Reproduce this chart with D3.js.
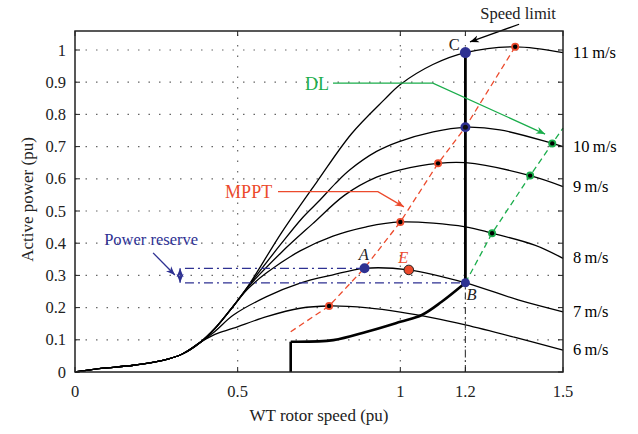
<!DOCTYPE html>
<html>
<head>
<meta charset="utf-8">
<script src="https://cdn.jsdelivr.net/npm/d3@7"></script>
<style>
  body { margin: 0; background: #fff; }
  text { font-family: "Liberation Serif", "Times New Roman", serif; }
</style>
</head>
<body>
<div class="container"></div>
<script>
// wind speed curves (rotor speed pu, active power pu)
const speeds = ["6\u2009m/s", "7\u2009m/s", "8\u2009m/s", "9\u2009m/s", "10\u2009m/s", "11\u2009m/s"];
const lowX = [0, 0.08, 0.18, 0.27, 0.33, 0.385];
const lowY = [0, 0.011, 0.021, 0.036, 0.056, 0.092];

const curveX = [
  [0.43, 0.487, 0.589, 0.692, 0.781, 0.9, 1.0, 1.1, 1.2, 1.35, 1.5],
  [0.43, 0.487, 0.589, 0.692, 0.79, 0.89, 1.026, 1.2, 1.362, 1.5],
  [0.43, 0.487, 0.533, 0.589, 0.692, 0.793, 0.896, 1.0, 1.2, 1.282, 1.413, 1.5],
  [0.43, 0.487, 0.533, 0.635, 0.73, 0.83, 0.927, 1.0, 1.115, 1.2, 1.399, 1.5],
  [0.43, 0.487, 0.533, 0.635, 0.7, 0.753, 0.8, 0.845, 0.927, 0.994, 1.101, 1.2, 1.306, 1.467, 1.5],
  [0.43, 0.487, 0.533, 0.635, 0.743, 0.85, 0.95, 1.0, 1.1, 1.2, 1.353, 1.5]
];
const curveY = [
  [0.117, 0.136, 0.172, 0.198, 0.205, 0.199, 0.186, 0.168, 0.146, 0.108, 0.068],
  [0.126, 0.177, 0.234, 0.276, 0.301, 0.322, 0.317, 0.277, 0.224, 0.187],
  [0.135, 0.205, 0.26, 0.308, 0.376, 0.422, 0.451, 0.466, 0.451, 0.431, 0.394, 0.353],
  [0.135, 0.205, 0.265, 0.372, 0.46, 0.55, 0.605, 0.628, 0.648, 0.65, 0.61, 0.576],
  [0.135, 0.205, 0.267, 0.40, 0.48, 0.534, 0.585, 0.628, 0.685, 0.715, 0.746, 0.76, 0.752, 0.71, 0.70],
  [0.135, 0.205, 0.268, 0.433, 0.59, 0.74, 0.845, 0.893, 0.955, 0.992, 1.01, 0.992]
];

// MPPT trajectory and its marked optimum points
const mpptX = [0.663, 0.781, 0.89, 1.0, 1.116, 1.2, 1.353];
const mpptY = [0.125, 0.205, 0.323, 0.466, 0.648, 0.76, 1.01];
const mpptDotX = [0.781, 1.0, 1.116, 1.353];
const mpptDotY = [0.205, 0.466, 0.648, 1.01];

// deloading (DL) line and its points
const dlX = [1.2, 1.282, 1.399, 1.467, 1.5];
const dlY = [0.277, 0.431, 0.61, 0.71, 0.757];
const dlDotX = [1.282, 1.399, 1.467];
const dlDotY = [0.431, 0.61, 0.71];

// operating trajectory (thick)
const opX = [0.663, 0.663, 0.794, 0.897, 1.0, 1.066, 1.127, 1.2, 1.2];
const opY = [0, 0.094, 0.099, 0.125, 0.156, 0.177, 0.218, 0.277, 0.992];

const speedLimit = 1.2;
const pointA = [0.89, 0.322], pointB = [1.2, 0.277], pointC = [1.2, 0.992];
const pointE = [1.026, 0.317], point10 = [1.2, 0.76];

const xTicks = [0, 0.5, 1, 1.2, 1.5];
const yTicks = [0, 0.1, 0.2, 0.3, 0.4, 0.5, 0.6, 0.7, 0.8, 0.9, 1];

const red = "#ec4a2c", green = "#1aad4b", blue = "#2e3192";

const width = 638, height = 434;
const margin = {left: 75, right: 75, top: 31, bottom: 62};

const svg = d3.select(".container").append("svg")
  .attr("width", width).attr("height", height)
  .style("background", "#fff");

const x = d3.scaleLinear().domain([0, 1.5]).range([margin.left, width - margin.right]);
const y = d3.scaleLinear().domain([0, 1]).range([height - margin.bottom, height - margin.bottom - 322]);
const yTop = y.invert(margin.top);

// dotted grid
const grid = svg.append("g").attr("stroke", "#666").attr("stroke-width", 1.2)
  .attr("stroke-dasharray", "1.5,9");
grid.selectAll("line.h").data(yTicks.slice(1)).enter().append("line")
  .attr("x1", x(0)).attr("x2", x(1.5)).attr("y1", d => y(d)).attr("y2", d => y(d));
grid.selectAll("line.v").data(xTicks.slice(1, 4)).enter().append("line")
  .attr("y1", y(0)).attr("y2", y(yTop)).attr("x1", d => x(d)).attr("x2", d => x(d));

const line = d3.line().x(d => x(d[0])).y(d => y(d[1]));
const smooth = d3.line().x(d => x(d[0])).y(d => y(d[1])).curve(d3.curveCatmullRom.alpha(0.5));

// wind speed curves
curveX.forEach((cx, i) => {
  const pts = lowX.map((v, j) => [v, lowY[j]]).concat(cx.map((v, j) => [v, curveY[i][j]]));
  svg.append("path").attr("d", smooth(pts))
    .attr("fill", "none").attr("stroke", "#000").attr("stroke-width", 1.3);
  svg.append("text")
    .attr("x", x(1.5) + 10).attr("y", y(curveY[i][cx.length - 1]) + 5)
    .attr("font-size", 16.5).text(speeds[i]);
});

// dash-dot line under B
svg.append("path").attr("d", line([[speedLimit, 0], pointB]))
  .attr("stroke", "#444").attr("stroke-width", 1.2).attr("stroke-dasharray", "7,3,1.5,3");

// power reserve lines
const resX = 0.338;
svg.append("path").attr("d", line([[resX, pointA[1]], pointA]))
  .attr("stroke", blue).attr("stroke-width", 1.3).attr("stroke-dasharray", "9,4,2,4");
svg.append("path").attr("d", line([[resX, pointB[1]], pointB]))
  .attr("stroke", blue).attr("stroke-width", 1.3).attr("stroke-dasharray", "9,4,2,4");

// MPPT and DL dashed lines
svg.append("path").attr("d", line(mpptX.map((v, i) => [v, mpptY[i]])))
  .attr("fill", "none").attr("stroke", red).attr("stroke-width", 1.3).attr("stroke-dasharray", "6,4");
svg.append("path").attr("d", line(dlX.map((v, i) => [v, dlY[i]])))
  .attr("fill", "none").attr("stroke", green).attr("stroke-width", 1.3).attr("stroke-dasharray", "6,4");

// operating trajectory
svg.append("path").attr("d", smooth(opX.slice(1, 8).map((v, i) => [v, opY[i + 1]])))
  .attr("fill", "none").attr("stroke", "#000").attr("stroke-width", 2.6);
svg.append("path").attr("d", line([[opX[0], opY[0]], [opX[1], opY[1]]]))
  .attr("stroke", "#000").attr("stroke-width", 2.6);
svg.append("path").attr("d", line([[opX[7], opY[7]], [opX[8], opY[8]]]))
  .attr("stroke", "#000").attr("stroke-width", 2.8);

// arrow markers
const defs = svg.append("defs");
[["arrRed", red], ["arrGreen", green], ["arrBlue", blue], ["arrBlack", "#000"]].forEach(([id, c]) => {
  defs.append("marker").attr("id", id).attr("viewBox", "0 0 10 10")
    .attr("refX", 10).attr("refY", 5).attr("markerWidth", 9).attr("markerHeight", 9)
    .attr("markerUnits", "userSpaceOnUse").attr("orient", "auto-start-reverse")
    .append("path").attr("d", "M0,1 L10,5 L0,9 L3,5 Z").attr("fill", c);
});

function arrow(pts, color, id, both) {
  const p = svg.append("path").attr("d", line(pts)).attr("fill", "none")
    .attr("stroke", color).attr("stroke-width", 1.3)
    .attr("marker-end", `url(#${id})`);
  if (both) p.attr("marker-start", `url(#${id})`);
}

arrow([[0.793, 0.897], [1.1, 0.897], [1.445, 0.739]], green, "arrGreen");
arrow([[0.624, 0.56], [0.931, 0.56], [1.011, 0.513]], red, "arrRed");
arrow([[0.24, 0.37], [0.307, 0.301]], blue, "arrBlue");
arrow([[0.323, 0.322], [0.323, 0.277]], blue, "arrBlue", true);
arrow([[1.365, 1.08], [1.214, 1.025]], "#000", "arrBlack");

// dots
function ringDots(xs, ys, color) {
  xs.forEach((v, i) => {
    svg.append("circle").attr("cx", x(v)).attr("cy", y(ys[i])).attr("r", 4).attr("fill", color);
    svg.append("circle").attr("cx", x(v)).attr("cy", y(ys[i])).attr("r", 2.2).attr("fill", "#000");
  });
}
ringDots(mpptDotX, mpptDotY, red);
ringDots(dlDotX, dlDotY, green);

[[pointA, 5], [pointB, 4.5], [pointC, 5.5], [point10, 5]].forEach(([p, r]) => {
  svg.append("circle").attr("cx", x(p[0])).attr("cy", y(p[1])).attr("r", r).attr("fill", blue);
});
svg.append("circle").attr("cx", x(point10[0])).attr("cy", y(point10[1])).attr("r", 2.5).attr("fill", "#111");
svg.append("circle").attr("cx", x(pointE[0])).attr("cy", y(pointE[1])).attr("r", 4.8)
  .attr("fill", red).attr("stroke", "#222").attr("stroke-width", 1);

// annotation texts
function label(t, px, py, opts) {
  const el = svg.append("text").attr("x", x(px)).attr("y", y(py))
    .attr("font-size", opts.size || 16.5).attr("fill", opts.color || "#222")
    .attr("text-anchor", opts.anchor || "start").text(t);
  if (opts.italic) el.attr("font-style", "italic");
}
label("Speed limit", 1.362, 1.096, {anchor: "middle"});
label("C", 1.183, 1.0, {anchor: "end"});
label("A", 0.888, 0.348, {anchor: "middle", italic: true});
label("E", 1.009, 0.338, {anchor: "middle", italic: true, color: red});
label("B", 1.203, 0.224, {italic: true});
label("DL", 0.781, 0.876, {anchor: "end", color: green, size: 18});
label("MPPT", 0.606, 0.54, {anchor: "end", color: red, size: 18});
label("Power reserve", 0.234, 0.394, {anchor: "middle", color: blue, size: 16.5});

// frame with inward ticks
svg.append("rect").attr("x", x(0)).attr("y", y(yTop))
  .attr("width", x(1.5) - x(0)).attr("height", y(0) - y(yTop))
  .attr("fill", "none").attr("stroke", "#222").attr("stroke-width", 1.5);

const tk = svg.append("g").attr("stroke", "#222").attr("stroke-width", 1);
yTicks.forEach(t => {
  tk.append("line").attr("x1", x(0)).attr("x2", x(0) + 5).attr("y1", y(t)).attr("y2", y(t));
  tk.append("line").attr("x1", x(1.5)).attr("x2", x(1.5) - 5).attr("y1", y(t)).attr("y2", y(t));
});
xTicks.forEach(t => {
  tk.append("line").attr("x1", x(t)).attr("x2", x(t)).attr("y1", y(0)).attr("y2", y(0) - 5);
  tk.append("line").attr("x1", x(t)).attr("x2", x(t)).attr("y1", y(yTop)).attr("y2", y(yTop) + 5);
});

svg.append("g").selectAll("text").data(yTicks).enter().append("text")
  .attr("x", x(0) - 9).attr("y", d => y(d) + 5.5).attr("text-anchor", "end")
  .attr("font-size", 16.5).attr("fill", "#222").text(d => d3.format("")(d));
svg.append("g").selectAll("text").data(xTicks).enter().append("text")
  .attr("x", d => x(d)).attr("y", y(0) + 25).attr("text-anchor", "middle")
  .attr("font-size", 16.5).attr("fill", "#222").text(d => d3.format("")(d));

svg.append("text").attr("x", (x(0) + x(1.5)) / 2).attr("y", height - 13)
  .attr("text-anchor", "middle").attr("font-size", 17).attr("fill", "#222")
  .text("WT rotor speed (pu)");
svg.append("text").attr("transform", `translate(33, ${(y(0) + y(yTop)) / 2 - 2}) rotate(-90)`)
  .attr("text-anchor", "middle").attr("font-size", 17).attr("fill", "#222")
  .text("Active power (pu)");
</script>
</body>
</html>
